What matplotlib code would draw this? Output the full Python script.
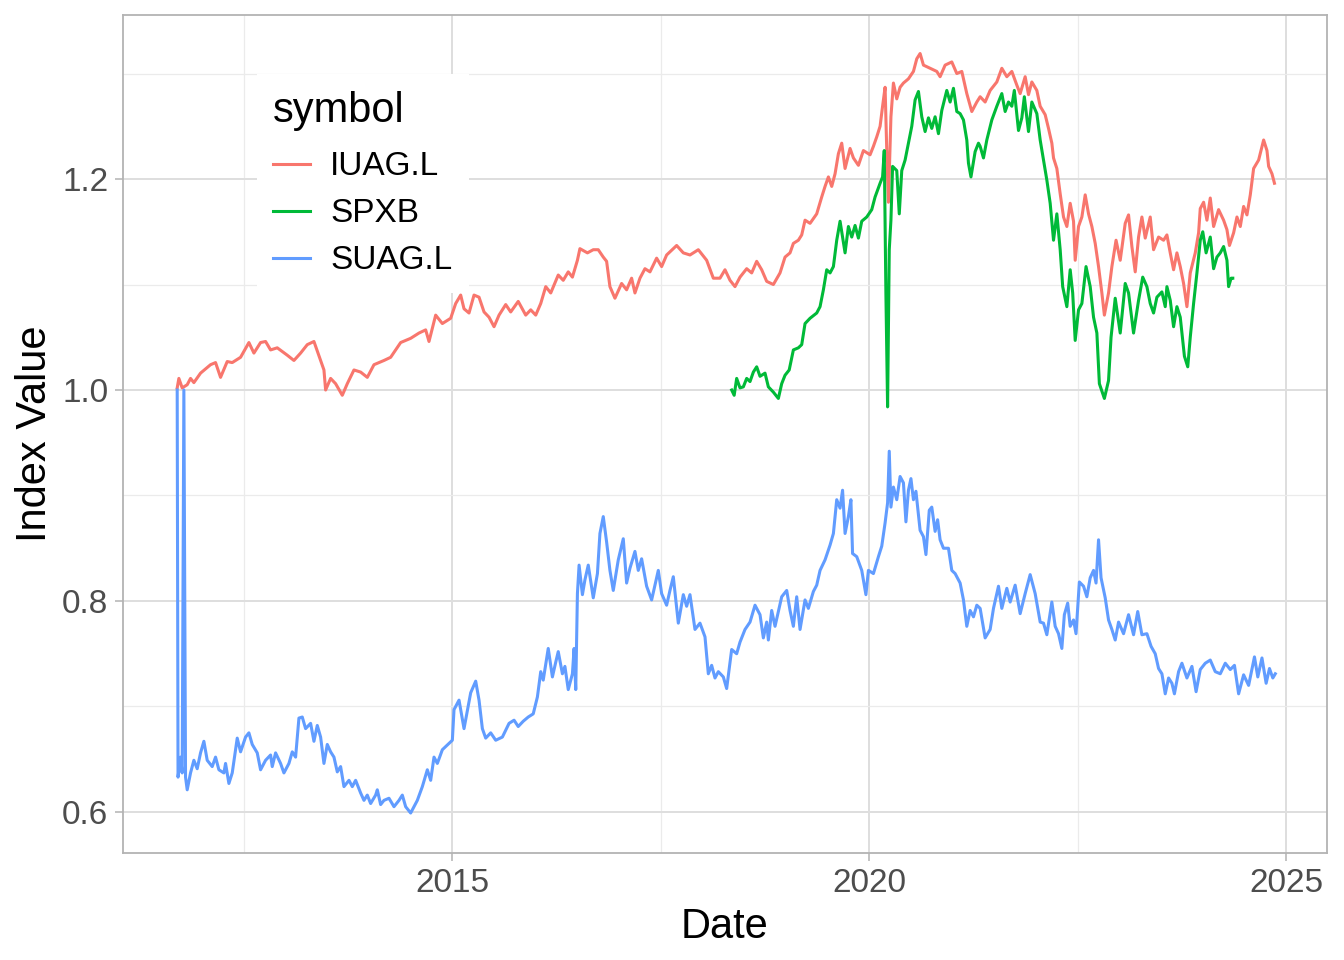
import matplotlib
matplotlib.use("Agg")
import matplotlib.pyplot as plt
from matplotlib.ticker import FixedLocator

# ---------------- data (decimal year, index value) ----------------
iuag_year = [2011.70, 2011.72, 2011.76, 2011.82, 2011.86, 2011.90, 2011.98, 2012.10, 2012.16, 2012.22,
             2012.30, 2012.36, 2012.46, 2012.56, 2012.62, 2012.70, 2012.76, 2012.82, 2012.90, 2013.02,
             2013.10, 2013.18, 2013.26, 2013.34, 2013.42, 2013.46, 2013.48, 2013.54, 2013.60, 2013.68,
             2013.74, 2013.82, 2013.90, 2013.98, 2014.06, 2014.18, 2014.26, 2014.38, 2014.50, 2014.60,
             2014.68, 2014.72, 2014.80, 2014.88, 2014.98, 2015.04, 2015.10, 2015.14, 2015.20, 2015.26,
             2015.32, 2015.38, 2015.44, 2015.50, 2015.56, 2015.64, 2015.70, 2015.79, 2015.88, 2015.94,
             2016.00, 2016.06, 2016.12, 2016.18, 2016.27, 2016.33, 2016.39, 2016.44, 2016.50, 2016.53,
             2016.62, 2016.69, 2016.75, 2016.81, 2016.85, 2016.89, 2016.95, 2017.03, 2017.09, 2017.15,
             2017.19, 2017.25, 2017.31, 2017.37, 2017.45, 2017.51, 2017.57, 2017.69, 2017.77, 2017.85,
             2017.95, 2018.05, 2018.13, 2018.21, 2018.27, 2018.33, 2018.39, 2018.45, 2018.53, 2018.59,
             2018.65, 2018.71, 2018.77, 2018.85, 2018.93, 2018.99, 2019.05, 2019.09, 2019.15, 2019.19,
             2019.23, 2019.29, 2019.37, 2019.43, 2019.47, 2019.51, 2019.55, 2019.59, 2019.63, 2019.67,
             2019.71, 2019.77, 2019.81, 2019.87, 2019.93, 2020.01, 2020.05, 2020.09, 2020.13, 2020.16,
             2020.19, 2020.21, 2020.23, 2020.26, 2020.29, 2020.33, 2020.37, 2020.41, 2020.47, 2020.53,
             2020.57, 2020.61, 2020.65, 2020.73, 2020.81, 2020.85, 2020.91, 2020.99, 2021.05, 2021.11,
             2021.17, 2021.23, 2021.29, 2021.33, 2021.39, 2021.45, 2021.53, 2021.59, 2021.65, 2021.71,
             2021.77, 2021.81, 2021.87, 2021.91, 2021.95, 2022.01, 2022.05, 2022.11, 2022.15, 2022.19,
             2022.21, 2022.25, 2022.29, 2022.33, 2022.37, 2022.41, 2022.45, 2022.47, 2022.51, 2022.55,
             2022.59, 2022.63, 2022.67, 2022.71, 2022.75, 2022.79, 2022.82, 2022.87, 2022.91, 2022.96,
             2023.01, 2023.07, 2023.11, 2023.15, 2023.19, 2023.23, 2023.27, 2023.31, 2023.37, 2023.41,
             2023.47, 2023.53, 2023.57, 2023.61, 2023.65, 2023.69, 2023.73, 2023.77, 2023.81, 2023.85,
             2023.91, 2023.95, 2023.97, 2024.01, 2024.05, 2024.09, 2024.13, 2024.19, 2024.25, 2024.29,
             2024.32, 2024.37, 2024.41, 2024.45, 2024.49, 2024.53, 2024.57, 2024.61, 2024.67, 2024.73,
             2024.77, 2024.79, 2024.83, 2024.86]
iuag_value = [1.002, 1.011, 1.002, 1.005, 1.011, 1.007, 1.016, 1.024, 1.026, 1.012,
              1.027, 1.026, 1.031, 1.045, 1.035, 1.045, 1.046, 1.038, 1.040, 1.033,
              1.028, 1.035, 1.043, 1.046, 1.028, 1.019, 1.000, 1.011, 1.006, 0.995,
              1.006, 1.019, 1.017, 1.012, 1.024, 1.028, 1.031, 1.045, 1.049, 1.054,
              1.057, 1.046, 1.071, 1.063, 1.068, 1.082, 1.090, 1.077, 1.073, 1.090,
              1.088, 1.074, 1.069, 1.060, 1.071, 1.081, 1.074, 1.084, 1.071, 1.076,
              1.071, 1.082, 1.098, 1.092, 1.109, 1.104, 1.112, 1.107, 1.123, 1.134,
              1.130, 1.133, 1.133, 1.126, 1.122, 1.098, 1.087, 1.101, 1.095, 1.106,
              1.092, 1.106, 1.115, 1.112, 1.125, 1.117, 1.128, 1.137, 1.130, 1.128,
              1.133, 1.123, 1.106, 1.106, 1.114, 1.104, 1.098, 1.107, 1.115, 1.111,
              1.122, 1.114, 1.103, 1.100, 1.111, 1.126, 1.130, 1.139, 1.142, 1.147,
              1.161, 1.158, 1.167, 1.183, 1.193, 1.202, 1.193, 1.205, 1.224, 1.234,
              1.210, 1.229, 1.220, 1.213, 1.227, 1.223, 1.231, 1.240, 1.250, 1.269,
              1.287, 1.227, 1.178, 1.259, 1.291, 1.276, 1.287, 1.291, 1.295, 1.302,
              1.314, 1.319, 1.308, 1.305, 1.302, 1.297, 1.308, 1.311, 1.300, 1.302,
              1.281, 1.264, 1.273, 1.278, 1.273, 1.284, 1.292, 1.305, 1.297, 1.302,
              1.289, 1.281, 1.297, 1.280, 1.292, 1.284, 1.269, 1.261, 1.248, 1.234,
              1.220, 1.210, 1.186, 1.164, 1.155, 1.177, 1.160, 1.123, 1.155, 1.164,
              1.185, 1.167, 1.155, 1.139, 1.117, 1.092, 1.071, 1.092, 1.117, 1.142,
              1.123, 1.158, 1.166, 1.136, 1.112, 1.145, 1.164, 1.144, 1.164, 1.133,
              1.145, 1.142, 1.147, 1.130, 1.114, 1.130, 1.117, 1.101, 1.079, 1.111,
              1.130, 1.149, 1.172, 1.178, 1.161, 1.182, 1.155, 1.171, 1.161, 1.152,
              1.137, 1.149, 1.164, 1.155, 1.174, 1.166, 1.185, 1.210, 1.218, 1.237,
              1.227, 1.212, 1.205, 1.196]

spxb_year = [2018.35, 2018.38, 2018.41, 2018.45, 2018.49, 2018.53, 2018.57, 2018.61, 2018.65, 2018.69,
             2018.75, 2018.79, 2018.85, 2018.91, 2018.95, 2018.99, 2019.04, 2019.09, 2019.15, 2019.19,
             2019.23, 2019.29, 2019.37, 2019.41, 2019.45, 2019.49, 2019.53, 2019.57, 2019.61, 2019.65,
             2019.71, 2019.75, 2019.79, 2019.83, 2019.87, 2019.91, 2019.97, 2020.03, 2020.07, 2020.13,
             2020.16, 2020.18, 2020.20, 2020.22, 2020.24, 2020.26, 2020.28, 2020.33, 2020.36, 2020.39,
             2020.43, 2020.47, 2020.51, 2020.55, 2020.59, 2020.63, 2020.67, 2020.71, 2020.75, 2020.79,
             2020.83, 2020.87, 2020.93, 2020.97, 2021.01, 2021.05, 2021.09, 2021.13, 2021.17, 2021.19,
             2021.22, 2021.27, 2021.31, 2021.33, 2021.37, 2021.41, 2021.47, 2021.53, 2021.59, 2021.63,
             2021.67, 2021.71, 2021.74, 2021.79, 2021.83, 2021.86, 2021.91, 2021.95, 2022.01, 2022.05,
             2022.09, 2022.13, 2022.17, 2022.21, 2022.25, 2022.29, 2022.32, 2022.37, 2022.41, 2022.44,
             2022.47, 2022.51, 2022.55, 2022.60, 2022.65, 2022.69, 2022.73, 2022.76, 2022.82, 2022.87,
             2022.90, 2022.95, 2023.01, 2023.07, 2023.11, 2023.17, 2023.23, 2023.28, 2023.33, 2023.37,
             2023.41, 2023.45, 2023.51, 2023.55, 2023.57, 2023.61, 2023.65, 2023.69, 2023.73, 2023.78,
             2023.82, 2023.85, 2023.89, 2023.93, 2023.97, 2024.00, 2024.04, 2024.09, 2024.13, 2024.17,
             2024.21, 2024.25, 2024.29, 2024.31, 2024.34, 2024.36]
spxb_value = [1.000, 0.995, 1.011, 1.002, 1.003, 1.011, 1.008, 1.017, 1.022, 1.013,
              1.016, 1.003, 0.998, 0.992, 1.006, 1.014, 1.019, 1.038, 1.040, 1.043,
              1.063, 1.068, 1.073, 1.079, 1.095, 1.114, 1.111, 1.117, 1.142, 1.160,
              1.130, 1.155, 1.145, 1.156, 1.144, 1.160, 1.164, 1.171, 1.183, 1.196,
              1.202, 1.227, 1.090, 0.984, 1.133, 1.161, 1.212, 1.208, 1.167, 1.208,
              1.218, 1.234, 1.250, 1.275, 1.283, 1.259, 1.245, 1.258, 1.248, 1.259,
              1.243, 1.265, 1.284, 1.273, 1.286, 1.264, 1.262, 1.256, 1.237, 1.215,
              1.202, 1.226, 1.234, 1.231, 1.220, 1.237, 1.256, 1.269, 1.281, 1.264,
              1.273, 1.269, 1.284, 1.246, 1.258, 1.278, 1.245, 1.273, 1.262, 1.237,
              1.218, 1.199, 1.177, 1.142, 1.167, 1.133, 1.098, 1.079, 1.114, 1.092,
              1.047, 1.076, 1.082, 1.117, 1.098, 1.069, 1.054, 1.006, 0.992, 1.009,
              1.050, 1.087, 1.054, 1.101, 1.092, 1.054, 1.085, 1.107, 1.098, 1.082,
              1.073, 1.088, 1.093, 1.079, 1.098, 1.085, 1.060, 1.079, 1.069, 1.032,
              1.022, 1.050, 1.082, 1.111, 1.142, 1.150, 1.130, 1.145, 1.115, 1.126,
              1.130, 1.136, 1.123, 1.098, 1.106, 1.106]

suag_year = [2011.70, 2011.71, 2011.74, 2011.76, 2011.78, 2011.80, 2011.82, 2011.86, 2011.90, 2011.94,
             2011.98, 2012.02, 2012.06, 2012.12, 2012.16, 2012.20, 2012.26, 2012.28, 2012.32, 2012.36,
             2012.42, 2012.46, 2012.52, 2012.56, 2012.60, 2012.66, 2012.70, 2012.76, 2012.82, 2012.84,
             2012.88, 2012.94, 2012.98, 2013.04, 2013.08, 2013.12, 2013.16, 2013.20, 2013.24, 2013.30,
             2013.34, 2013.38, 2013.42, 2013.46, 2013.50, 2013.54, 2013.58, 2013.62, 2013.66, 2013.70,
             2013.76, 2013.80, 2013.84, 2013.90, 2013.94, 2013.98, 2014.02, 2014.08, 2014.10, 2014.14,
             2014.18, 2014.24, 2014.30, 2014.36, 2014.40, 2014.44, 2014.50, 2014.58, 2014.64, 2014.70,
             2014.74, 2014.78, 2014.82, 2014.88, 2014.96, 2015.00, 2015.02, 2015.08, 2015.14, 2015.22,
             2015.28, 2015.32, 2015.36, 2015.40, 2015.46, 2015.52, 2015.60, 2015.68, 2015.74, 2015.79,
             2015.85, 2015.91, 2015.97, 2016.02, 2016.06, 2016.09, 2016.15, 2016.20, 2016.24, 2016.27,
             2016.32, 2016.35, 2016.39, 2016.44, 2016.46, 2016.48, 2016.50, 2016.52, 2016.56, 2016.59,
             2016.63, 2016.69, 2016.74, 2016.77, 2016.81, 2016.85, 2016.89, 2016.93, 2016.99, 2017.05,
             2017.09, 2017.13, 2017.19, 2017.23, 2017.27, 2017.33, 2017.39, 2017.47, 2017.51, 2017.57,
             2017.61, 2017.65, 2017.71, 2017.77, 2017.81, 2017.85, 2017.91, 2017.97, 2018.03, 2018.07,
             2018.11, 2018.15, 2018.19, 2018.25, 2018.29, 2018.35, 2018.41, 2018.45, 2018.51, 2018.57,
             2018.63, 2018.69, 2018.73, 2018.77, 2018.79, 2018.83, 2018.87, 2018.95, 2019.01, 2019.05,
             2019.09, 2019.13, 2019.17, 2019.23, 2019.27, 2019.33, 2019.37, 2019.41, 2019.47, 2019.53,
             2019.57, 2019.61, 2019.65, 2019.68, 2019.71, 2019.75, 2019.78, 2019.80, 2019.85, 2019.91,
             2019.96, 2019.99, 2020.05, 2020.11, 2020.15, 2020.19, 2020.22, 2020.24, 2020.26, 2020.29,
             2020.33, 2020.37, 2020.41, 2020.44, 2020.47, 2020.50, 2020.53, 2020.56, 2020.61, 2020.65,
             2020.68, 2020.72, 2020.75, 2020.79, 2020.82, 2020.85, 2020.89, 2020.95, 2020.99, 2021.03,
             2021.09, 2021.13, 2021.17, 2021.21, 2021.25, 2021.29, 2021.33, 2021.39, 2021.45, 2021.49,
             2021.55, 2021.59, 2021.65, 2021.69, 2021.75, 2021.81, 2021.87, 2021.93, 2021.99, 2022.05,
             2022.09, 2022.13, 2022.19, 2022.23, 2022.27, 2022.31, 2022.34, 2022.38, 2022.41, 2022.45,
             2022.48, 2022.52, 2022.57, 2022.61, 2022.65, 2022.69, 2022.72, 2022.75, 2022.78, 2022.83,
             2022.87, 2022.91, 2022.95, 2022.99, 2023.05, 2023.11, 2023.17, 2023.22, 2023.27, 2023.33,
             2023.38, 2023.43, 2023.47, 2023.51, 2023.55, 2023.59, 2023.63, 2023.66, 2023.71, 2023.75,
             2023.81, 2023.87, 2023.92, 2023.97, 2024.03, 2024.09, 2024.15, 2024.21, 2024.27, 2024.33,
             2024.38, 2024.43, 2024.49, 2024.55, 2024.62, 2024.66, 2024.71, 2024.76, 2024.80, 2024.84,
             2024.87]
suag_value = [1.000, 0.633, 0.652, 0.637, 1.000, 0.633, 0.621, 0.637, 0.649, 0.641,
              0.656, 0.667, 0.649, 0.643, 0.652, 0.640, 0.637, 0.646, 0.627, 0.637,
              0.670, 0.657, 0.671, 0.675, 0.664, 0.656, 0.640, 0.649, 0.654, 0.643,
              0.656, 0.646, 0.637, 0.646, 0.657, 0.652, 0.689, 0.690, 0.679, 0.684,
              0.667, 0.682, 0.671, 0.646, 0.664, 0.657, 0.652, 0.638, 0.643, 0.624,
              0.630, 0.624, 0.630, 0.618, 0.611, 0.616, 0.608, 0.616, 0.621, 0.607,
              0.611, 0.613, 0.605, 0.611, 0.616, 0.605, 0.599, 0.611, 0.624, 0.640,
              0.630, 0.652, 0.646, 0.659, 0.665, 0.668, 0.697, 0.706, 0.679, 0.713,
              0.724, 0.706, 0.679, 0.670, 0.675, 0.668, 0.671, 0.684, 0.687, 0.681,
              0.686, 0.690, 0.693, 0.709, 0.733, 0.725, 0.755, 0.728, 0.742, 0.752,
              0.731, 0.738, 0.716, 0.731, 0.755, 0.716, 0.807, 0.834, 0.806, 0.820,
              0.834, 0.803, 0.826, 0.864, 0.880, 0.856, 0.829, 0.810, 0.839, 0.859,
              0.817, 0.831, 0.847, 0.829, 0.840, 0.814, 0.801, 0.829, 0.807, 0.796,
              0.810, 0.823, 0.779, 0.806, 0.795, 0.806, 0.773, 0.779, 0.766, 0.731,
              0.739, 0.727, 0.733, 0.728, 0.717, 0.754, 0.750, 0.761, 0.773, 0.780,
              0.796, 0.787, 0.765, 0.780, 0.763, 0.791, 0.776, 0.804, 0.810, 0.791,
              0.776, 0.804, 0.773, 0.801, 0.793, 0.809, 0.815, 0.829, 0.839, 0.853,
              0.864, 0.896, 0.888, 0.905, 0.864, 0.880, 0.896, 0.845, 0.842, 0.829,
              0.806, 0.829, 0.826, 0.842, 0.852, 0.874, 0.893, 0.942, 0.889, 0.908,
              0.896, 0.918, 0.912, 0.875, 0.905, 0.916, 0.896, 0.904, 0.867, 0.861,
              0.844, 0.886, 0.889, 0.866, 0.877, 0.858, 0.850, 0.850, 0.829, 0.826,
              0.817, 0.801, 0.776, 0.791, 0.785, 0.796, 0.793, 0.765, 0.773, 0.793,
              0.814, 0.793, 0.812, 0.799, 0.815, 0.788, 0.807, 0.825, 0.807, 0.780,
              0.779, 0.768, 0.799, 0.776, 0.769, 0.755, 0.787, 0.798, 0.776, 0.782,
              0.769, 0.818, 0.814, 0.804, 0.822, 0.829, 0.817, 0.858, 0.822, 0.803,
              0.782, 0.773, 0.763, 0.780, 0.769, 0.787, 0.768, 0.790, 0.768, 0.769,
              0.757, 0.750, 0.736, 0.731, 0.712, 0.727, 0.722, 0.712, 0.733, 0.741,
              0.727, 0.738, 0.714, 0.735, 0.741, 0.744, 0.733, 0.731, 0.741, 0.735,
              0.739, 0.712, 0.730, 0.720, 0.747, 0.728, 0.746, 0.722, 0.736, 0.727,
              0.731]

symbols = ["IUAG.L", "SPXB", "SUAG.L"]
colors = ["#F8766D", "#00BA38", "#619CFF"]

x_major = [2015, 2020, 2025]
x_minor = [2012.5, 2017.5, 2022.5]
y_major = [0.6, 0.8, 1.0, 1.2]
y_minor = [0.7, 0.9, 1.1, 1.3]

# ---------------- figure ----------------
plt.rcParams['font.family'] = ['Liberation Sans', 'DejaVu Sans']
fig = plt.figure(figsize=(13.44, 9.6), dpi=100)
ax = fig.add_axes([123/1344, 1 - 853/960, (1327-123)/1344, (853-15)/960])

series = [(iuag_year, iuag_value), (spxb_year, spxb_value), (suag_year, suag_value)]
for (xs, ys), lab, col in zip(series, symbols, colors):
    ax.plot(xs, ys, color=col, lw=2.2, label=lab, solid_joinstyle='round', zorder=3)

ax.set_xlim(2011.05, 2025.49)
ax.set_ylim(0.5611, 1.3555)

ax.xaxis.set_major_locator(FixedLocator(x_major))
ax.xaxis.set_minor_locator(FixedLocator(x_minor))
ax.yaxis.set_major_locator(FixedLocator(y_major))
ax.yaxis.set_minor_locator(FixedLocator(y_minor))
ax.set_xticklabels([str(v) for v in x_major])
ax.set_yticklabels([f"{v:.1f}" for v in y_major])

ax.grid(which='major', color='#DEDEDE', lw=1.4, zorder=0)
ax.grid(which='minor', color='#EBEBEB', lw=0.9, zorder=0)
ax.set_axisbelow(True)

for s in ax.spines.values():
    s.set_color('#B3B3B3')
    s.set_linewidth(1.3)

ax.tick_params(which='major', length=5.5, width=1.1, color='#B3B3B3',
               labelsize=24, labelcolor='#4D4D4D', pad=5)
ax.tick_params(which='minor', length=0)

ax.set_xlabel("Date", fontsize=30, labelpad=6)
ax.set_ylabel("Index Value", fontsize=30, labelpad=5)

leg = ax.legend(title="symbol", loc='upper left', bbox_to_anchor=(0.111, 0.929),
                borderaxespad=0, frameon=True, fontsize=24, title_fontsize=30,
                handlelength=1.1, handletextpad=0.6, labelspacing=0.48,
                borderpad=0.5, alignment='left')
# a little more room between the legend title and its entries
leg._legend_box.sep = 0.48 * 24 + 3.0
frame = leg.get_frame()
frame.set_facecolor('white')
frame.set_edgecolor('none')
frame.set_alpha(1.0)
frame.set_boxstyle('square', pad=0)

fig.savefig("out.png", dpi=100)
